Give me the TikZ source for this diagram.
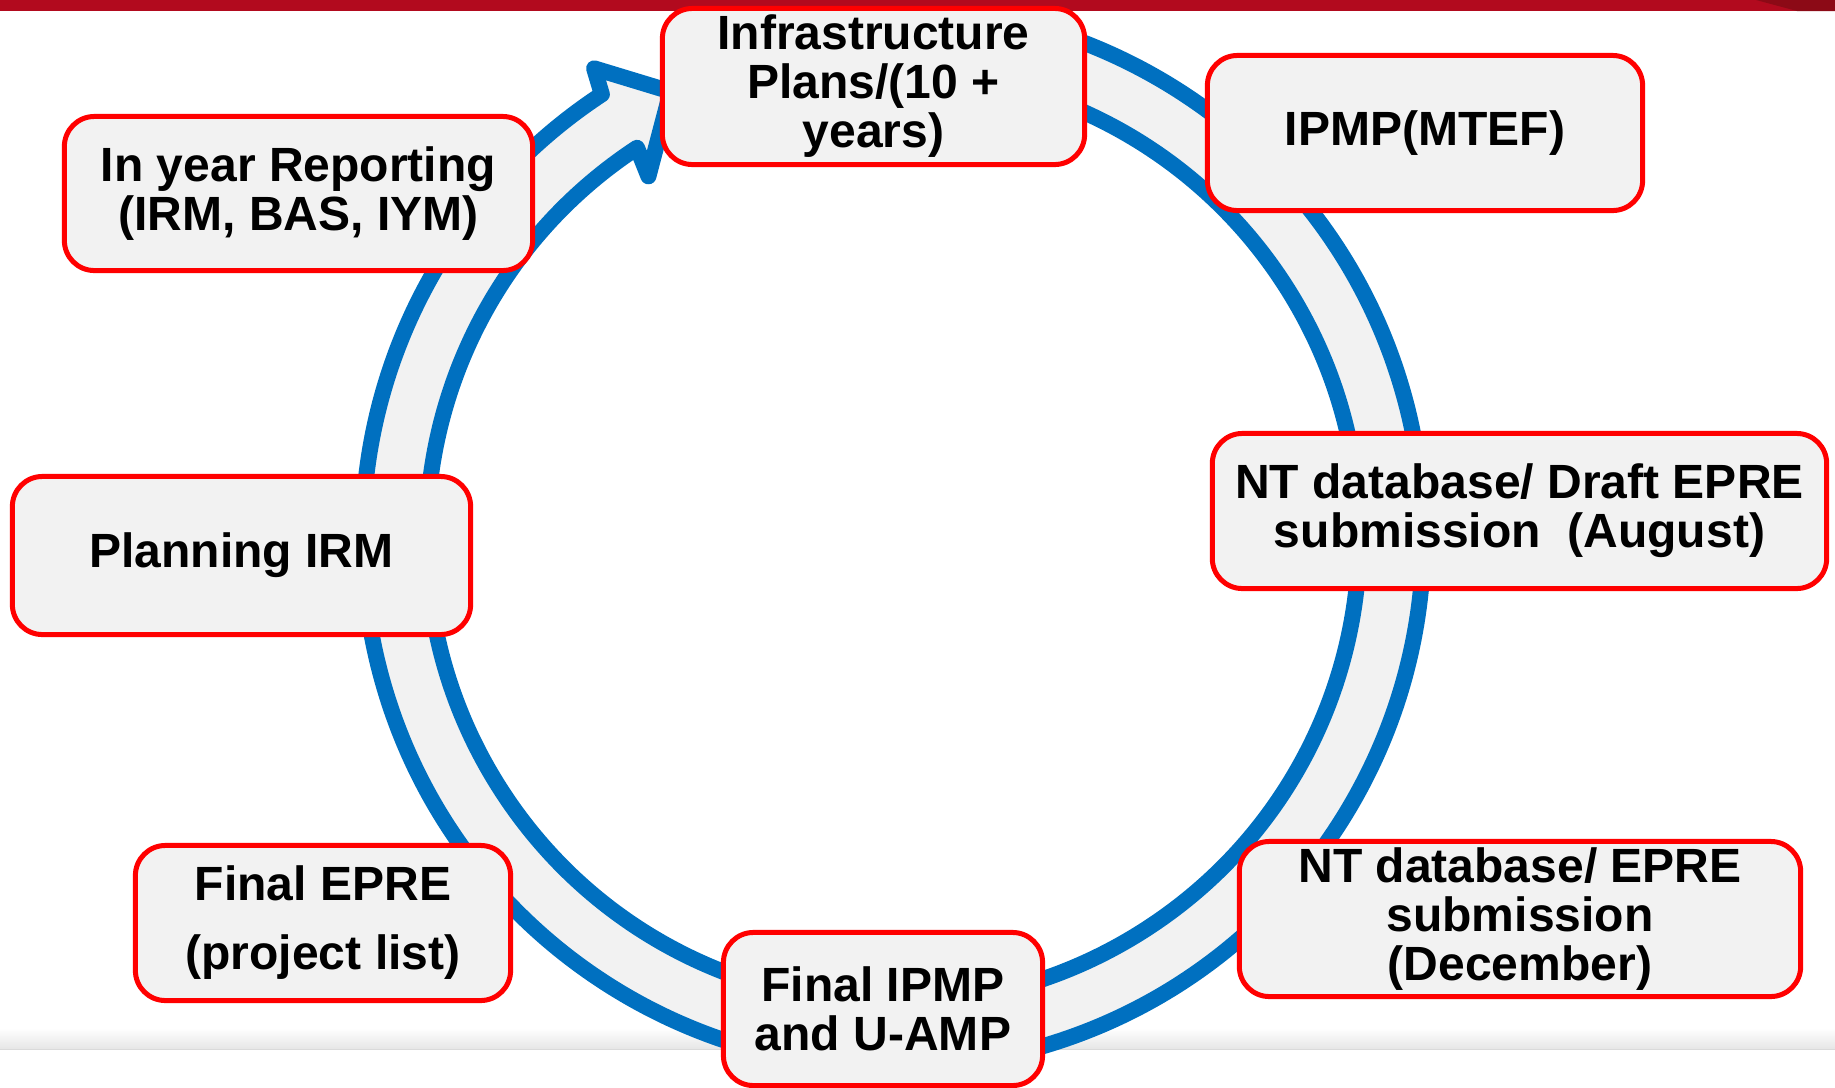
\documentclass[tikz,border=0pt]{standalone}
\usepackage{fontspec}
\setmainfont{Liberation Sans}
\definecolor{barred}{HTML}{B20A1E}
\definecolor{bardark}{HTML}{8C0A16}
\definecolor{ringblue}{HTML}{0070C0}
\definecolor{panel}{HTML}{F2F2F2}
\definecolor{edge}{HTML}{FF0000}
\definecolor{stripgray}{HTML}{E6E6E6}
\definecolor{stripline}{HTML}{DADADA}
\begin{document}
\begin{tikzpicture}[x=0.01cm,y=0.01cm,
  stage/.style={draw=edge, line width=0.05cm, fill=panel, rounded corners=0.3cm,
    align=center, inner sep=0pt,
    font=\fontsize{13.66pt}{13.95pt}\selectfont\bfseries},
  ring/.style={draw=ringblue, fill=panel, line width=0.16cm, line join=round}]
\useasboundingbox (0,0) rectangle (1835,-1087);

% footer strip
\shade[top color=white, bottom color=stripgray] (0,-1028) rectangle (1835,-1049);
\draw[stripline, line width=0.01cm] (0,-1049) -- (1835,-1049);

% clockwise cycle arrow around the stages
\begin{scope}[shift={(893,-537.5)}]
  \draw[ring] (105:5.3cm) arc[start angle=105, end angle=-236.7, radius=5.3cm]
    -- (-237.5:5.56cm) -- (-243.5:4.98cm) -- (-235.9:4.36cm) -- (-236.7:4.66cm)
    arc[start angle=-236.7, end angle=105, radius=4.66cm] -- cycle;
\end{scope}

% header bar
\fill[barred] (0,0) rectangle (1835,-11);
\fill[bardark] (1756,0) -- (1797,-11) -- (1835,-11) -- (1835,0) -- cycle;

% stages
\node[stage, minimum width=4.22cm, minimum height=1.56cm] (infra) at (873.5,-86.5)
  {Infrastructure\\Plans/(10 +\\years)};
\node[stage, minimum width=4.35cm, minimum height=1.55cm] (ipmp) at (1425,-133)
  {IPMP(MTEF)};
\node[stage, minimum width=6.14cm, minimum height=1.55cm] (draft) at (1519.5,-511)
  {NT database/ Draft EPRE\\submission\ \ (August)};
\node[stage, minimum width=5.61cm, minimum height=1.55cm] (dec) at (1520,-919)
  {NT database/ EPRE\\submission\\(December)};
\node[stage, minimum width=3.19cm, minimum height=1.53cm] (final) at (883,-1009)
  {Final IPMP\\and U-AMP};
\node[stage, minimum width=3.75cm, minimum height=1.55cm] (fepre) at (323,-923)
  {Final EPRE\\[5.7pt](project list)};
\node[stage, minimum width=4.58cm, minimum height=1.58cm] (plan) at (241.5,-555.5)
  {Planning IRM};
\node[stage, minimum width=4.68cm, minimum height=1.54cm] (inyear) at (298.5,-193.5)
  {In year Reporting\\(IRM, BAS, IYM)};
\end{tikzpicture}
\end{document}
